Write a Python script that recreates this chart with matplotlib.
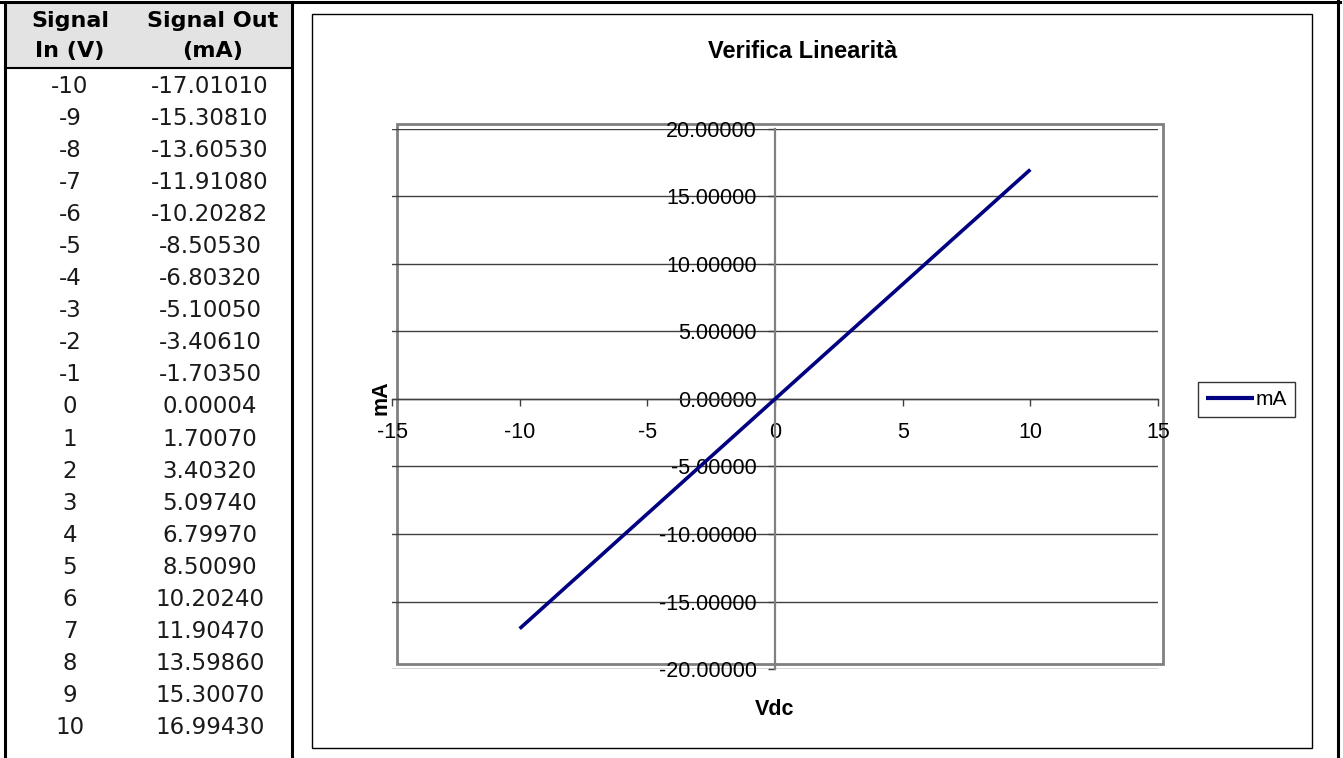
import matplotlib
matplotlib.use("Agg")
import matplotlib.pyplot as plt
from matplotlib.lines import Line2D
from matplotlib.patches import Rectangle

plt.rcParams["axes.unicode_minus"] = False

# data from the sheet
signal_in = [-10, -9, -8, -7, -6, -5, -4, -3, -2, -1, 0,
             1, 2, 3, 4, 5, 6, 7, 8, 9, 10]
signal_out = [-17.01010, -15.30810, -13.60530, -11.91080, -10.20282,
              -8.50530, -6.80320, -5.10050, -3.40610, -1.70350, 0.00004,
              1.70070, 3.40320, 5.09740, 6.79970, 8.50090, 10.20240,
              11.90470, 13.59860, 15.30070, 16.99430]
header_in = ["Signal", "In (V)"]
header_out = ["Signal Out", "(mA)"]
x_ticks = [-15, -10, -5, 0, 5, 10, 15]
y_ticks = [-20, -15, -10, -5, 0, 5, 10, 15, 20]

W, H = 1343, 758


def fx(px):
    return px / W


def fy(py):
    return 1 - py / H


def hline(fig, x0, x1, y, lw, color="black"):
    fig.add_artist(Line2D([fx(x0), fx(x1)], [fy(y), fy(y)], lw=lw,
                          color=color, transform=fig.transFigure))


def vline(fig, x, y0, y1, lw, color="black"):
    fig.add_artist(Line2D([fx(x), fx(x)], [fy(y0), fy(y1)], lw=lw,
                          color=color, transform=fig.transFigure))


fig = plt.figure(figsize=(W / 100, H / 100), dpi=100)
fig.patch.set_facecolor("white")

# ---- table on the left ----
fig.add_artist(Rectangle((fx(5), fy(68)), fx(292) - fx(5), fy(3) - fy(68),
                         transform=fig.transFigure, facecolor="#e3e3e3",
                         edgecolor="none"))
hline(fig, 0, 1340, 2, 2.2)
vline(fig, 1338, 0, 758, 2.2)
vline(fig, 5, 2, 758, 2.2)
vline(fig, 292, 2, 758, 2.2)
hline(fig, 5, 292, 68, 1.5)

tfont = "DejaVu Sans"
for i, line in enumerate(header_in):
    fig.text(fx(70), fy(27 + 30 * i), line, ha="center", va="baseline",
             fontsize=16, fontweight="bold", family=tfont)
for i, line in enumerate(header_out):
    fig.text(fx(213), fy(27 + 30 * i), line, ha="center", va="baseline",
             fontsize=16, fontweight="bold", family=tfont)

for i, (v, o) in enumerate(zip(signal_in, signal_out)):
    base = 93 + 32.05 * i
    fig.text(fx(70), fy(base), str(v), ha="center", va="baseline",
             fontsize=16.5, family=tfont, color="#1a1a1a")
    fig.text(fx(210), fy(base), "%.5f" % o, ha="center", va="baseline",
             fontsize=16.5, family=tfont, color="#1a1a1a")

# ---- chart ----
cfont = "Liberation Sans"
fig.add_artist(Rectangle((fx(312), fy(748)), fx(1312) - fx(312),
                         fy(14) - fy(748), transform=fig.transFigure,
                         fill=False, edgecolor="black", lw=1))

ax = fig.add_axes([fx(392), fy(669), (1158 - 392) / W, 540 / H])
ax.set_facecolor("none")
ax.set_xlim(-15, 15)
ax.set_ylim(-20, 20)

# gray plot-area frame, drawn slightly offset like the original
ax.add_patch(Rectangle((5 / 766, 5 / 540), 1, 1, transform=ax.transAxes,
                       fill=False, edgecolor="#808080", lw=2,
                       clip_on=False, zorder=0.5))

for s in ["top", "right"]:
    ax.spines[s].set_visible(False)
ax.spines["left"].set_position(("data", 0))
ax.spines["bottom"].set_position(("data", 0))
ax.spines["left"].set_color("#808080")
ax.spines["left"].set_linewidth(1.6)
ax.spines["bottom"].set_color("#404040")
ax.spines["bottom"].set_linewidth(1)

ax.set_xticks(x_ticks)
ax.set_xticklabels([str(t) for t in x_ticks])
ax.set_yticks(y_ticks)
ax.set_yticklabels(["%.5f" % t for t in y_ticks])
ax.yaxis.grid(True, color="#404040", lw=1)
ax.set_axisbelow(True)
ax.tick_params(axis="y", direction="out", length=5, width=1,
               color="#404040", pad=8, labelsize=15.5)
ax.tick_params(axis="x", direction="out", length=5, width=1,
               color="#404040", pad=11.5, labelsize=15.5)
for lab in ax.get_xticklabels() + ax.get_yticklabels():
    lab.set_family(cfont)

ax.plot(signal_in, signal_out, color="#000080", lw=2.6, label="mA",
        solid_capstyle="butt", zorder=3)

fig.text(fx(803), fy(58), "Verifica Linearità", ha="center", va="baseline",
         fontsize=17, fontweight="bold", family=cfont)
fig.text(fx(775), fy(715), "Vdc", ha="center", va="baseline",
         fontsize=15.5, fontweight="bold", family=cfont)
fig.text(fx(381), fy(398), "mA", ha="center", va="center", rotation=90,
         fontsize=15.5, fontweight="bold", family=cfont)

leg = fig.legend(loc="center left", bbox_to_anchor=(fx(1198), fy(399.5)),
                 bbox_transform=fig.transFigure, frameon=True,
                 fancybox=False, edgecolor="black", borderpad=0.4,
                 handlelength=2.3, handletextpad=0.05, borderaxespad=0,
                 prop={"family": cfont, "size": 15})
leg.get_frame().set_linewidth(1)
leg.get_lines()[0].set_linewidth(3)

fig.savefig("out.png", dpi=100)
